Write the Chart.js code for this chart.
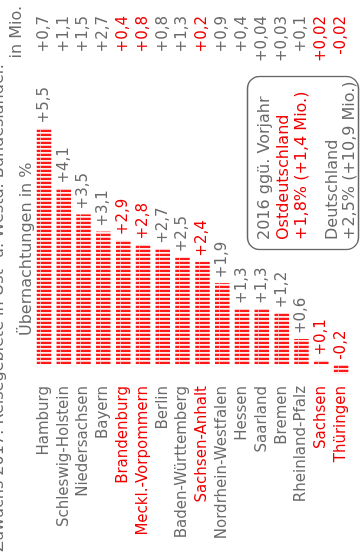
<!DOCTYPE html>
<html lang="de">
<head>
<meta charset="utf-8">
<script src="https://cdn.jsdelivr.net/npm/chart.js@4.4.1/dist/chart.umd.min.js"></script>
<style>
  html, body { margin: 0; padding: 0; background: #fff; overflow: hidden; width: 360px; height: 556px; }
  /* Grafik liegt quer: 556x384 gezeichnet, dann um 90° nach links gedreht */
  #wrap { position: absolute; left: 0; top: 0; width: 556px; height: 384px;
          transform-origin: 0 0; transform: translate(-20px, 556px) rotate(-90deg); }
</style>
</head>
<body>
<div id="wrap"><canvas id="chart"></canvas></div>
<script>
// Daten
const laender = ['Hamburg', 'Schleswig-Holstein', 'Niedersachsen', 'Bayern', 'Brandenburg',
  'Meckl.-Vorpommern', 'Berlin', 'Baden-Württemberg', 'Sachsen-Anhalt', 'Nordrhein-Westfalen',
  'Hessen', 'Saarland', 'Bremen', 'Rheinland-Pfalz', 'Sachsen', 'Thüringen'];
const prozent = [5.5, 4.1, 3.5, 3.1, 2.9, 2.8, 2.7, 2.5, 2.4, 1.9, 1.3, 1.3, 1.2, 0.6, 0.1, -0.2];
const mio = ['+0,7', '+1,1', '+1,5', '+2,7', '+0,4', '+0,8', '+0,8', '+1,3', '+0,2', '+0,9',
  '+0,4', '+0,04', '+0,03', '+0,1', '+0,02', '-0,02'];
const ost = [false, false, false, false, true, true, false, false, true, false,
  false, false, false, false, true, true];

const titel = 'Zuwachs 2017: Reisegebiete in Ost- u. Westd. Bundesländer.';
const kopfProzent = 'Übernachtungen in %';
const kopfMio = 'in Mio.';
const boxZeilen = [
  ['2016 ggü. Vorjahr', false],
  ['Ostdeutschland', true],
  ['+1,8% (+1,4 Mio.)', true],
  ['Deutschland', false],
  ['+2,5% (+10,9 Mio.)', false]
];

const ROT = '#f00000';
const GRAU = '#6b6b6b';
const FONT = '"DejaVu Sans", sans-serif';

Chart.defaults.font.family = FONT;
Chart.defaults.font.size = 15;

function fmt(v) {
  return (v < 0 ? '-' : '+') + Math.abs(v).toFixed(1).replace('.', ',');
}

// Balkenmuster: rot mit hellen Querstrichen
let muster = [];
function machMuster(ctx, top, h) {
  const c = document.createElement('canvas');
  c.width = 4; c.height = Math.round(h);
  const g = c.getContext('2d');
  g.fillStyle = '#ff1818';
  g.fillRect(0, 0, 4, c.height);
  g.fillStyle = '#ffc4c4';
  g.fillRect(2, 0, 1, c.height);
  g.fillStyle = '#fff0f0';
  g.fillRect(3, 0, 1, c.height);
  g.fillStyle = '#ff9a9a';
  g.fillRect(0, 4, 2, 1);
  const p = ctx.createPattern(c, 'repeat');
  p.setTransform(new DOMMatrix().translate(0, Math.round(top)));
  return p;
}

const musterPlugin = {
  id: 'muster',
  afterLayout(chart) {
    const y = chart.scales.y;
    const h = 15;
    muster = laender.map((l, i) => machMuster(chart.ctx, y.getPixelForValue(i) - h / 2, h));
  }
};

const textPlugin = {
  id: 'texte',
  afterDatasetsDraw(chart) {
    const ctx = chart.ctx;
    const x = chart.scales.x;
    const meta = chart.getDatasetMeta(0);
    const null0 = x.getPixelForValue(0);
    ctx.save();
    ctx.font = '15px ' + FONT;
    ctx.textBaseline = 'middle';
    meta.data.forEach((bar, i) => {
      ctx.fillStyle = ost[i] ? ROT : GRAU;
      ctx.textAlign = 'left';
      ctx.fillText(fmt(prozent[i]), Math.max(bar.x, null0) + 5, bar.y);
      ctx.textAlign = 'right';
      ctx.fillText(mio[i], 540, bar.y);
    });

    ctx.textBaseline = 'alphabetic';
    ctx.fillStyle = GRAU;
    ctx.font = '16px ' + FONT;
    ctx.textAlign = 'left';
    ctx.fillText(titel, 4, 23);
    ctx.fillText(kopfProzent, 220, 51);
    ctx.textAlign = 'right';
    ctx.fillText(kopfMio, 550, 41);

    // Kasten
    ctx.strokeStyle = '#666';
    ctx.lineWidth = 1.3;
    ctx.beginPath();
    ctx.roundRect(306.5, 267.5, 173, 111, 12);
    ctx.stroke();
    const grund = [289, 308, 326, 357, 374];
    ctx.textAlign = 'left';
    boxZeilen.forEach((z, i) => {
      ctx.fillStyle = z[1] ? ROT : GRAU;
      ctx.fillText(z[0], 316, grund[i]);
    });
    ctx.restore();
  }
};

new Chart(document.getElementById('chart'), {
  type: 'bar',
  data: {
    labels: laender,
    datasets: [{
      data: prozent,
      backgroundColor: (c) => muster[c.dataIndex] || '#f00',
      borderWidth: 0,
      barPercentage: 0.73,
      categoryPercentage: 1
    }]
  },
  options: {
    indexAxis: 'y',
    responsive: true,
    maintainAspectRatio: false,
    animation: false,
    layout: { padding: { top: 54, bottom: 3, left: 0, right: 21 } },
    plugins: { legend: { display: false }, tooltip: { enabled: false } },
    scales: {
      x: { display: false, min: -0.4, max: 8 },
      y: {
        grid: { display: false, drawTicks: false },
        border: { display: false },
        ticks: {
          autoSkip: false,
          padding: 4,
          font: { size: 15 },
          color: (c) => ost[c.index] ? ROT : GRAU
        },
        afterFit(scale) { scale.width = 174; }
      }
    }
  },
  plugins: [musterPlugin, textPlugin]
});
</script>
</body>
</html>
